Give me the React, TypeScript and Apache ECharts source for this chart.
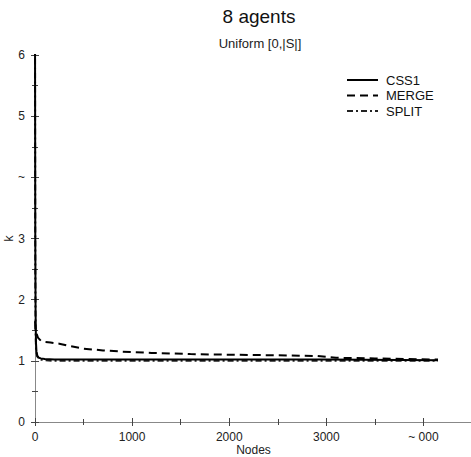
import React, { useEffect, useRef } from "react";
import * as echarts from "echarts";

const titleText = "8 agents";
const subtitleText = "Uniform [0,|S|]";
const xName = "Nodes";
const yName = "k";
const legendNames = ["CSS1", "MERGE", "SPLIT"];

const css1X = [0, 3, 6, 10, 15, 25, 40, 60, 100, 200, 500, 1000, 2000, 3000, 4150];
const css1Y = [6.6, 3.0, 1.8, 1.3, 1.15, 1.08, 1.05, 1.04, 1.03, 1.02, 1.02, 1.02, 1.02, 1.02, 1.01];

const mergeX = [0, 5, 15, 30, 60, 100, 160, 250, 330, 500, 700, 900, 1200, 1600, 2000, 2500, 2900, 3100, 3500, 4150];
const mergeY = [1.65, 1.52, 1.45, 1.38, 1.33, 1.31, 1.3, 1.28, 1.25, 1.2, 1.17, 1.15, 1.13, 1.11, 1.1, 1.09, 1.08, 1.05, 1.04, 1.02];

const splitX = [0, 3, 6, 10, 20, 40, 80, 200, 1000, 2000, 3000, 4150];
const splitY = [6.4, 2.5, 1.5, 1.2, 1.08, 1.03, 1.01, 1.0, 1.0, 1.0, 1.0, 1.0];

const xTickLabels: Record<number, string> = { 0: "0", 1000: "1000", 2000: "2000", 3000: "3000", 4000: "~ 000" };
const yTickLabels: Record<number, string> = { 0: "0", 1: "1", 2: "2", 3: "3", 4: "~", 5: "5", 6: "6" };

const zip = (xs: number[], ys: number[]) => xs.map((x, i) => [x, ys[i]]);

export default function App() {
  const ref = useRef<HTMLDivElement>(null);
  useEffect(() => {
    if (!ref.current) return;
    const chart = echarts.init(ref.current, undefined, { renderer: "svg" });
    const font = "'Liberation Sans', Arial, sans-serif";
    const axisLine = { show: true, lineStyle: { color: "#888", width: 1 } };
    const tick = { show: true, inside: true, length: 4, lineStyle: { color: "#444" } };
    const minor = { show: true, splitNumber: 2, length: 3, lineStyle: { color: "#444" } };
    const styles = [
      { color: "#000", width: 2, type: "solid" as any },
      { color: "#000", width: 2, type: [8, 5] as any },
      { color: "#222", width: 2, type: [6, 3, 2, 3] as any },
    ];
    const legendGraphics: any[] = [];
    legendNames.forEach((n, i) => {
      const y = 80 + i * 15.5;
      legendGraphics.push({
        type: "line",
        shape: { x1: 347, y1: y, x2: 378, y2: y },
        style: { stroke: styles[i].color, lineWidth: 2, lineDash: Array.isArray(styles[i].type) ? styles[i].type : null },
      });
      legendGraphics.push({
        type: "text",
        x: 386,
        y: y,
        style: { text: n, fontSize: 13, fill: "#111", fontFamily: font, verticalAlign: "middle", align: "left" },
      });
    });
    chart.setOption({
      animation: false,
      backgroundColor: "#fff",
      textStyle: { fontFamily: font },
      title: [
        { text: titleText, left: 254, top: 2, textAlign: "center", textStyle: { fontSize: 19, fontWeight: "normal", color: "#111", fontFamily: font } },
        { text: subtitleText, left: 255, top: 32, textAlign: "center", textStyle: { fontSize: 13, fontWeight: "normal", color: "#222", fontFamily: font } },
      ],
      graphic: legendGraphics,
      grid: { left: 35, top: 55, right: -1, bottom: 35, containLabel: false, outerBoundsMode: "none" },
      xAxis: [
        {
          type: "value", min: 0, max: 4500, interval: 1000,
          name: xName, nameLocation: "middle", nameGap: 22, nameMoveOverlap: false,
          nameTextStyle: { fontSize: 12, color: "#222", fontFamily: font },
          axisLine, axisTick: tick, minorTick: minor, splitLine: { show: false },
          axisLabel: { fontSize: 12, color: "#222", margin: 9, fontFamily: font, formatter: (v: number) => xTickLabels[v] ?? "" },
        },
        {
          type: "value", position: "top", min: 0, max: 4500, interval: 1000,
          axisLine, axisTick: tick, minorTick: minor, splitLine: { show: false },
          axisLabel: { show: false },
        },
      ],
      yAxis: [
        {
          type: "value", min: 0, max: 6, interval: 1,
          name: yName, nameLocation: "middle", nameGap: 20, nameRotate: 90, nameMoveOverlap: false,
          nameTextStyle: { fontSize: 12, color: "#222", fontFamily: font },
          axisLine, axisTick: tick, minorTick: minor, splitLine: { show: false },
          axisLabel: { fontSize: 12, color: "#222", margin: 10, fontFamily: font, formatter: (v: number) => yTickLabels[v] ?? "" },
        },
        {
          type: "value", position: "right", min: 0, max: 6, interval: 1,
          axisLine, axisTick: tick, minorTick: minor, splitLine: { show: false },
          axisLabel: { show: false },
        },
      ],
      series: [
        {
          name: "SPLIT", type: "line", data: zip(splitX, splitY), showSymbol: false, symbol: "none",
          color: "#222", lineStyle: styles[2],
        },
        {
          name: "MERGE", type: "line", data: zip(mergeX, mergeY), showSymbol: false, symbol: "none",
          color: "#000", lineStyle: styles[1],
        },
        {
          name: "CSS1", type: "line", data: zip(css1X, css1Y), showSymbol: false, symbol: "none",
          color: "#000", lineStyle: styles[0],
        },
      ],
    });
    return () => chart.dispose();
  }, []);
  return <div ref={ref} style={{ position: "absolute", left: 0, top: 0, width: 471, height: 457 }} />;
}
